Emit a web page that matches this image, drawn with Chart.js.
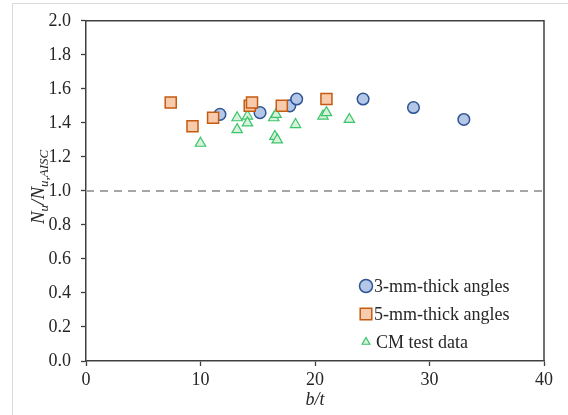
<!DOCTYPE html>
<html>
<head>
<meta charset="utf-8">
<script src="https://cdn.jsdelivr.net/npm/chart.js@4.4.1/dist/chart.umd.min.js"></script>
<style>
  html, body { margin: 0; padding: 0; background: #fff; }
  #wrap { position: relative; width: 568px; height: 415px; }
</style>
</head>
<body>
<div id="wrap"><canvas id="chart" width="568" height="415"></canvas></div>
<script>
'use strict';
// values
const THIN_BT   = [11.7, 15.2, 17.8, 18.4, 24.2, 28.6, 33.0];
const THIN_RAT  = [1.45, 1.46, 1.50, 1.54, 1.54, 1.49, 1.42];
const THICK_BT  = [7.4, 9.3, 11.1, 14.3, 14.5, 17.1, 21.0];
const THICK_RAT = [1.52, 1.38, 1.43, 1.50, 1.52, 1.50, 1.54];
const CM_BT     = [10.0, 13.2, 13.2, 14.1, 14.1, 16.4, 16.6, 16.5, 16.7, 18.3, 20.7, 21.0, 23.0];
const CM_RAT    = [1.28, 1.43, 1.36, 1.44, 1.40, 1.43, 1.45, 1.32, 1.30, 1.39, 1.44, 1.46, 1.42];
const REF_X     = [0, 40];
const REF_Y     = [1.0, 1.0];
const SERIES_NAMES = ['3-mm-thick angles', '5-mm-thick angles', 'CM test data'];

const FONT = 'Liberation Serif, Times New Roman, serif';
const AXIS = '#404040';
const TXT  = '#262626';

const pts = (xs, ys) => xs.map((x, i) => ({ x, y: ys[i] }));

// outer light frame of the figure + top/right plot border
const framePlugin = {
  id: 'frame',
  beforeDraw(chart) {
    const c = chart.ctx;
    c.save();
    c.strokeStyle = '#d9d9d9';
    c.lineWidth = 1;
    c.beginPath();
    c.moveTo(12.5, 415);
    c.lineTo(12.5, 3.5);
    c.lineTo(568, 3.5);
    c.stroke();
    c.restore();
  },
  afterDraw(chart) {
    const { ctx: c, chartArea: a } = chart;
    c.save();
    c.strokeStyle = AXIS;
    c.lineWidth = 1.5;
    c.beginPath();
    c.moveTo(a.left, a.top);
    c.lineTo(a.right, a.top);
    c.lineTo(a.right, a.bottom);
    c.stroke();
    c.restore();
  }
};

// y title with subscripts: N_u / N_u,AISC
const yTitlePlugin = {
  id: 'ytitle',
  afterDraw(chart) {
    const c = chart.ctx;
    const a = chart.chartArea;
    const parts = [
      ['N', 0], ['u', 1], ['/', 0], ['N', 0], ['u,AISC', 1]
    ];
    const big = 'italic 19px ' + FONT, small = 'italic 13px ' + FONT;
    c.save();
    let total = 0;
    parts.forEach(([t, s]) => { c.font = s ? small : big; total += c.measureText(t).width; });
    c.translate(44, (a.top + a.bottom) / 2 - 4);
    c.rotate(-Math.PI / 2);
    c.fillStyle = TXT;
    c.textBaseline = 'alphabetic';
    let x = -total / 2;
    parts.forEach(([t, s]) => {
      c.font = s ? small : big;
      c.fillText(t, x, s ? 4 : 0);
      x += c.measureText(t).width;
    });
    c.restore();
  }
};

// legend inside the plot, lower right
const legendPlugin = {
  id: 'innerLegend',
  afterDraw(chart) {
    const c = chart.ctx;
    const rows = [
      { y: 286, r: 6.5 },
      { y: 314, r: 8.2 },
      { y: 342, r: 4.5 }
    ];
    c.save();
    chart.data.datasets.slice(0, 3).forEach((ds, i) => {
      const row = rows[i];
      c.fillStyle = ds.backgroundColor;
      c.strokeStyle = ds.borderColor;
      c.lineWidth = ds.borderWidth;
      Chart.helpers.drawPoint(c, { pointStyle: ds.pointStyle, radius: row.r, rotation: 0, borderWidth: ds.borderWidth }, 366, row.y);
      c.fillStyle = TXT;
      c.font = '18px ' + FONT;
      c.textBaseline = 'middle';
      c.fillText(ds.label, i === 2 ? 376 : 374, row.y + 1);
    });
    c.restore();
  }
};

new Chart(document.getElementById('chart'), {
  type: 'scatter',
  data: {
    datasets: [
      {
        label: SERIES_NAMES[0],
        data: pts(THIN_BT, THIN_RAT),
        pointStyle: 'circle', pointRadius: 5.8,
        backgroundColor: '#b4c7e7', borderColor: '#2f5597', borderWidth: 1.5,
        order: 1
      },
      {
        label: SERIES_NAMES[1],
        data: pts(THICK_BT, THICK_RAT),
        pointStyle: 'rect', pointRadius: 7.8,
        backgroundColor: '#f8cbad', borderColor: '#c55a11', borderWidth: 1.5,
        order: 0
      },
      {
        label: SERIES_NAMES[2],
        data: pts(CM_BT, CM_RAT),
        pointStyle: 'triangle', pointRadius: 6,
        backgroundColor: '#d6f1dc', borderColor: '#3cc46a', borderWidth: 1.2,
        order: 2
      },
      {
        type: 'line',
        label: 'ref',
        data: pts(REF_X, REF_Y),
        borderColor: '#a6a6a6', borderWidth: 2, borderDash: [8, 6],
        pointRadius: 0, fill: false,
        order: 3
      }
    ]
  },
  options: {
    responsive: false,
    animation: false,
    layout: { autoPadding: false, padding: { left: 0, top: 12, right: 24, bottom: 4 } },
    plugins: {
      legend: { display: false },
      tooltip: { enabled: false }
    },
    scales: {
      x: {
        type: 'linear', min: 0, max: 40,
        afterFit: s => { s.height = 50; },
        ticks: { stepSize: 10, color: TXT, font: { family: FONT, size: 18 }, padding: 3, maxRotation: 0 },
        grid: { display: true, drawOnChartArea: false, drawTicks: true, tickLength: 5, tickColor: AXIS, tickWidth: 1.3 },
        border: { display: true, color: AXIS, width: 1.5 },
        title: { display: true, text: 'b/t', color: TXT, font: { family: FONT, size: 18, style: 'italic' }, padding: { top: 0, bottom: 0 } }
      },
      y: {
        min: 0, max: 2,
        afterFit: s => { s.width = 86; },
        ticks: { stepSize: 0.2, color: TXT, font: { family: FONT, size: 18 }, padding: 10, callback: v => v.toFixed(1) },
        grid: { display: true, drawOnChartArea: false, drawTicks: true, tickLength: 5, tickColor: AXIS, tickWidth: 1.3 },
        border: { display: true, color: AXIS, width: 1.5 },
        title: { display: false }
      }
    }
  },
  plugins: [framePlugin, yTitlePlugin, legendPlugin]
});
</script>
</body>
</html>
